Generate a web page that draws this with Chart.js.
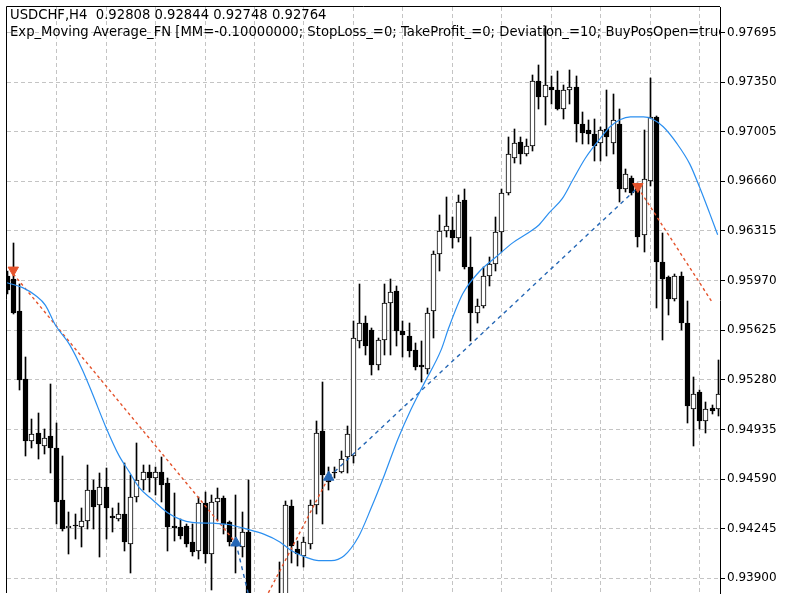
<!DOCTYPE html>
<html>
<head>
<meta charset="utf-8">
<title>USDCHF,H4</title>
<script src="https://cdn.jsdelivr.net/npm/chart.js@4.4.1/dist/chart.umd.min.js"></script>
<style>
  html, body { margin: 0; padding: 0; background: #ffffff; }
  canvas { display: block; }
</style>
</head>
<body>
<canvas id="grafico" width="800" height="600"></canvas>
<script>
// velas H4, o indice do array e o numero da barra
const abertura = [
  0.96002, 0.95982, 0.95757, 0.95286, 0.94856, 0.94910, 0.94822, 0.94890, 0.94808, 0.94446,
  0.94248, 0.94269, 0.94255, 0.94296, 0.94514, 0.94412, 0.94535, 0.94330, 0.94310, 0.94344,
  0.94139, 0.94467, 0.94583, 0.94637, 0.94596, 0.94637, 0.94562, 0.94262, 0.94255, 0.94262,
  0.94153, 0.94091, 0.94426, 0.94071, 0.94433, 0.94460, 0.94289, 0.94153, 0.94119, 0.94221,
  0.93661, 0.93615, 0.93650, 0.93700, 0.93740, 0.93770, 0.94405, 0.94105, 0.94057, 0.94139,
  0.94412, 0.94924, 0.94603, 0.94637, 0.94637, 0.94740, 0.94753, 0.95552, 0.95675, 0.95627,
  0.95381, 0.95559, 0.95811, 0.95900, 0.95620, 0.95586, 0.95490, 0.95381, 0.95354, 0.95757,
  0.96152, 0.96316, 0.96323, 0.96269, 0.96528, 0.96064, 0.95743, 0.95791, 0.96002, 0.96084,
  0.96309, 0.96576, 0.96821, 0.96937, 0.96849, 0.96903, 0.97361, 0.97245, 0.97313, 0.97292,
  0.97163, 0.97292, 0.97313, 0.97060, 0.97019, 0.96992, 0.96924, 0.97026, 0.96924, 0.97060,
  0.96610, 0.96685, 0.96617, 0.96289, 0.96664, 0.97108, 0.96098, 0.95996, 0.95845, 0.96002,
  0.95675, 0.95074, 0.95197, 0.94992, 0.95081, 0.95074
];
const maxima = [
  0.96037, 0.96234, 0.95948, 0.95436, 0.95006, 0.95047, 0.94938, 0.95252, 0.94979, 0.94753,
  0.94358, 0.94344, 0.94392, 0.94685, 0.94583, 0.94631, 0.94665, 0.94392, 0.94426, 0.94699,
  0.94617, 0.94842, 0.94685, 0.94685, 0.94672, 0.94740, 0.94596, 0.94494, 0.94310, 0.94276,
  0.94276, 0.94467, 0.94501, 0.94480, 0.94528, 0.94474, 0.94296, 0.94480, 0.94358, 0.94583,
  0.93700, 0.93690, 0.93740, 0.93780, 0.94010, 0.94440, 0.94446, 0.94160, 0.94187, 0.94446,
  0.94992, 0.95265, 0.94672, 0.94672, 0.94788, 0.94958, 0.95688, 0.95948, 0.95723, 0.95641,
  0.95572, 0.95948, 0.95982, 0.95934, 0.95688, 0.95675, 0.95538, 0.95552, 0.95777, 0.96173,
  0.96426, 0.96548, 0.96412, 0.96562, 0.96610, 0.96275, 0.95845, 0.96064, 0.96132, 0.96412,
  0.96610, 0.96972, 0.97026, 0.96972, 0.96958, 0.97401, 0.97470, 0.97743, 0.97395, 0.97429,
  0.97333, 0.97436, 0.97395, 0.97142, 0.97088, 0.97094, 0.97040, 0.97292, 0.97265, 0.97163,
  0.96746, 0.96699, 0.96651, 0.97019, 0.97381, 0.97115, 0.96303, 0.96002, 0.96016, 0.96030,
  0.95825, 0.95299, 0.95211, 0.95129, 0.95108, 0.95415
];
const minima = [
  0.95880, 0.95736, 0.95211, 0.94753, 0.94808, 0.94733, 0.94767, 0.94631, 0.94276, 0.94228,
  0.94071, 0.94173, 0.94119, 0.94241, 0.94241, 0.94050, 0.94173, 0.94221, 0.94296, 0.94091,
  0.93934, 0.94433, 0.94514, 0.94501, 0.94480, 0.94433, 0.94091, 0.94160, 0.94173, 0.94119,
  0.94057, 0.94037, 0.94003, 0.93818, 0.94296, 0.94207, 0.94126, 0.93934, 0.94050, 0.93607,
  0.93580, 0.93560, 0.93610, 0.93640, 0.93690, 0.93740, 0.94003, 0.93989, 0.93982, 0.94105,
  0.94344, 0.94276, 0.94514, 0.94596, 0.94631, 0.94631, 0.94699, 0.95504, 0.95456, 0.95313,
  0.95347, 0.95456, 0.95456, 0.95518, 0.95436, 0.95436, 0.95347, 0.95265, 0.95320, 0.95572,
  0.96037, 0.96275, 0.96200, 0.96241, 0.96050, 0.95552, 0.95675, 0.95777, 0.95934, 0.96037,
  0.96166, 0.96562, 0.96787, 0.96780, 0.96835, 0.96869, 0.97163, 0.97053, 0.97197, 0.97156,
  0.97094, 0.97197, 0.96937, 0.96917, 0.96917, 0.96801, 0.96801, 0.96835, 0.96849, 0.96514,
  0.96583, 0.96562, 0.96207, 0.96166, 0.96630, 0.95777, 0.95559, 0.95729, 0.95825, 0.95627,
  0.94979, 0.94822, 0.94938, 0.94910, 0.95040, 0.95026
];
const fechamento = [
  0.95907, 0.95743, 0.95279, 0.94856, 0.94904, 0.94835, 0.94876, 0.94808, 0.94433, 0.94241,
  0.94262, 0.94262, 0.94296, 0.94514, 0.94398, 0.94535, 0.94392, 0.94317, 0.94344, 0.94153,
  0.94467, 0.94583, 0.94637, 0.94596, 0.94637, 0.94549, 0.94255, 0.94248, 0.94194, 0.94139,
  0.94085, 0.94426, 0.94071, 0.94433, 0.94460, 0.94276, 0.94153, 0.94126, 0.94221, 0.93661,
  0.93615, 0.93650, 0.93700, 0.93740, 0.93770, 0.94412, 0.94126, 0.94071, 0.94153, 0.94412,
  0.94910, 0.94617, 0.94569, 0.94631, 0.94733, 0.94904, 0.95572, 0.95675, 0.95518, 0.95381,
  0.95559, 0.95811, 0.95893, 0.95620, 0.95593, 0.95484, 0.95368, 0.95368, 0.95743, 0.96152,
  0.96316, 0.96350, 0.96269, 0.96514, 0.96064, 0.95743, 0.95791, 0.96002, 0.96084, 0.96309,
  0.96576, 0.96849, 0.96924, 0.96849, 0.96903, 0.97361, 0.97245, 0.97333, 0.97292, 0.97163,
  0.97292, 0.97313, 0.97060, 0.96999, 0.96992, 0.96903, 0.97019, 0.96972, 0.97088, 0.96610,
  0.96712, 0.96576, 0.96275, 0.96678, 0.97108, 0.96098, 0.95982, 0.95845, 0.96002, 0.95675,
  0.95095, 0.95183, 0.94992, 0.95074, 0.95060, 0.95183
];

// media movel exponencial (posicao em barras)
const mediaPosicao = [
  0, 2.5, 4.6, 6.2, 7.8, 10.1, 12.2, 13.8, 15.9, 18.1, 19.8, 21.4, 23.5, 25.9, 28.0, 29.9,
  33.4, 35.5, 38.8, 41.5, 44.1, 46.0, 48.1, 50.4, 52.4, 54.5, 56.8, 58.9, 61.0, 63.2, 65.3,
  67.4, 70.2, 71.4, 73.7, 76.3, 79.0, 81.8, 84.3, 86.0, 87.6, 89.8, 91.4, 93.5, 95.9, 97.5,
  99.1, 100.8, 102.9, 104.3, 106.1, 108.3, 110.4, 112.0, 113.6, 114.9
];
const mediaValor = [
  0.95955, 0.95921, 0.95866, 0.95798, 0.95661, 0.95525, 0.95347, 0.95183, 0.94958, 0.94753,
  0.94637, 0.94528, 0.94446, 0.94358, 0.94310, 0.94289, 0.94283, 0.94276, 0.94242, 0.94207,
  0.94153, 0.94091, 0.94050, 0.94023, 0.94023, 0.94057, 0.94187, 0.94392, 0.94617, 0.94869,
  0.95074, 0.95252, 0.95490, 0.95640, 0.95880, 0.96030, 0.96132, 0.96234, 0.96303, 0.96357,
  0.96439, 0.96542, 0.96664, 0.96821, 0.96958, 0.97040, 0.97088, 0.97108, 0.97108, 0.97094,
  0.97040, 0.96924, 0.96780, 0.96617, 0.96439, 0.96289
];

// ordens: setas e linhas tracejadas
const compraBarra = [37, 52];
const compraPreco = [0.94146, 0.94603];
const vendaBarra = [1, 102];
const vendaPreco = [0.96043, 0.96624];

const linhasCompraBarras = [[37, 40], [52, 102]];
const linhasCompraPrecos = [[0.94146, 0.93614], [0.94603, 0.96617]];
const linhasVendaBarras = [[1, 37], [40, 52], [102, 114]];
const linhasVendaPrecos = [[0.96016, 0.94146], [0.93614, 0.94603], [0.96617, 0.95821]];

const precosEixo = [
  0.97695, 0.97350, 0.97005, 0.96660, 0.96315, 0.95970,
  0.95625, 0.95280, 0.94935, 0.94590, 0.94245, 0.93900
];
const barrasGrade = [8, 16, 24, 32, 40, 48, 56, 64, 72, 80, 88, 96, 104, 112];

const titulo = [
  "USDCHF,H4  0.92808 0.92844 0.92748 0.92764",
  "Exp_Moving Average_FN [MM=-0.10000000; StopLoss_=0; TakeProfit_=0; Deviation_=10; BuyPosOpen=true; SellPosOpen=true]"
];

const fonte = "'DejaVu Sans', Verdana, sans-serif";
const corGrade = "#c4c4c4";
const corMedia = "#2b8ff0";
const corCompra = "#2567b5";
const corVenda = "#e4532c";

function linhaOrdem(barras, precos, cor, traco) {
  return {
    type: "line",
    data: [
      { x: barras[0], y: precos[0] },
      { x: barras[1], y: precos[1] },
    ],
    borderColor: cor,
    borderWidth: 1.4,
    borderDash: traco,
    pointRadius: 0,
    order: 0,
  };
}

function setas(barras, precos, cor, rotacao) {
  return {
    type: "line",
    data: barras.map((b, i) => ({ x: b, y: precos[i] })),
    showLine: false,
    pointStyle: "triangle",
    pointRadius: 6,
    pointRotation: rotacao,
    backgroundColor: cor,
    borderColor: cor,
    borderWidth: 1,
    order: -1,
  };
}

// texto do topo e moldura esquerda/superior
const moldura = {
  id: "moldura",
  afterDatasetsUpdate(chart) {
    // encaixa velas no pixel para ficarem nitidas
    chart.getSortedVisibleDatasetMetas().forEach((meta) => {
      if (meta.type !== "bar") return;
      meta.data.forEach((el) => {
        el.x = Math.floor(el.x) + 0.5;
        el.y = Math.round(el.y);
        el.base = Math.round(el.base);
      });
    });
  },
  beforeDatasetsDraw(chart) {
    const { ctx, chartArea } = chart;
    ctx.save();
    ctx.beginPath();
    ctx.rect(chartArea.left, chartArea.top, chartArea.right - chartArea.left, chartArea.bottom - chartArea.top);
    ctx.clip();
    ctx.fillStyle = "#000000";
    ctx.font = "13.2px " + fonte;
    ctx.textBaseline = "alphabetic";
    titulo.forEach((t, i) => ctx.fillText(t, 10, 19 + i * 17));
    ctx.restore();

    ctx.save();
    ctx.strokeStyle = "#000000";
    ctx.lineWidth = 1;
    ctx.beginPath();
    ctx.moveTo(chartArea.left - 0.5, chartArea.bottom);
    ctx.lineTo(chartArea.left - 0.5, chartArea.top - 0.5);
    ctx.lineTo(chartArea.right, chartArea.top - 0.5);
    ctx.stroke();
    ctx.restore();
  },
};

const corpos = abertura.map((o, i) => ({ x: i, y: [o, fechamento[i]] }));
const pavios = abertura.map((o, i) => ({ x: i, y: [minima[i], maxima[i]] }));
const corCorpo = abertura.map((o, i) => (fechamento[i] >= o ? "#ffffff" : "#000000"));

const datasets = [
  {
    type: "line",
    data: mediaPosicao.map((p, i) => ({ x: p, y: mediaValor[i] })),
    borderColor: corMedia,
    borderWidth: 1.2,
    pointRadius: 0,
    cubicInterpolationMode: "monotone",
    order: 0,
  },
];
linhasCompraBarras.forEach((b, i) => datasets.push(linhaOrdem(b, linhasCompraPrecos[i], corCompra, [4, 4])));
linhasVendaBarras.forEach((b, i) => datasets.push(linhaOrdem(b, linhasVendaPrecos[i], corVenda, [3, 3])));
datasets.push(setas(compraBarra, compraPreco, corCompra, 0));
datasets.push(setas(vendaBarra, vendaPreco, corVenda, 180));
datasets.push({
  type: "bar",
  data: corpos,
  backgroundColor: corCorpo,
  borderColor: "#000000",
  borderWidth: 1,
  borderSkipped: false,
  barThickness: 5,
  minBarLength: 1,
  grouped: false,
  order: 1,
});
datasets.push({
  type: "bar",
  data: pavios,
  backgroundColor: "#000000",
  borderWidth: 0,
  barThickness: 1,
  grouped: false,
  order: 2,
});

const grafico = new Chart(document.getElementById("grafico"), {
  type: "bar",
  data: { datasets: datasets },
  options: {
    responsive: false,
    animation: false,
    devicePixelRatio: 1,
    layout: { padding: { left: 4, top: 3, right: 0, bottom: 0 } },
    plugins: { legend: { display: false }, tooltip: { enabled: false } },
    scales: {
      x: {
        type: "linear",
        min: -0.02,
        max: 115.28,
        offset: false,
        grid: { color: corGrade, drawTicks: false, offset: false },
        border: { display: false, dash: [4, 3] },
        ticks: { display: false },
        afterBuildTicks: (s) => {
          s.ticks = barrasGrade.map((v) => ({ value: v }));
        },
      },
      y: {
        type: "linear",
        position: "right",
        min: 0.937978,
        max: 0.978725,
        beginAtZero: false,
        grid: { color: corGrade, tickLength: 5, tickColor: "#000000", tickBorderDash: [] },
        border: { display: true, color: "#000000", width: 1, dash: [4, 3] },
        ticks: {
          autoSkip: false,
          padding: 2,
          color: "#000000",
          font: { family: fonte, size: 12 },
          callback: (v) => v.toFixed(5),
        },
        afterBuildTicks: (s) => {
          s.ticks = precosEixo.map((v) => ({ value: v }));
        },
        afterFit: (s) => {
          s.width = 80;
          s.paddingTop = 0;
          s.paddingBottom = 0;
        },
      },
    },
  },
  plugins: [moldura],
});
</script>
</body>
</html>
